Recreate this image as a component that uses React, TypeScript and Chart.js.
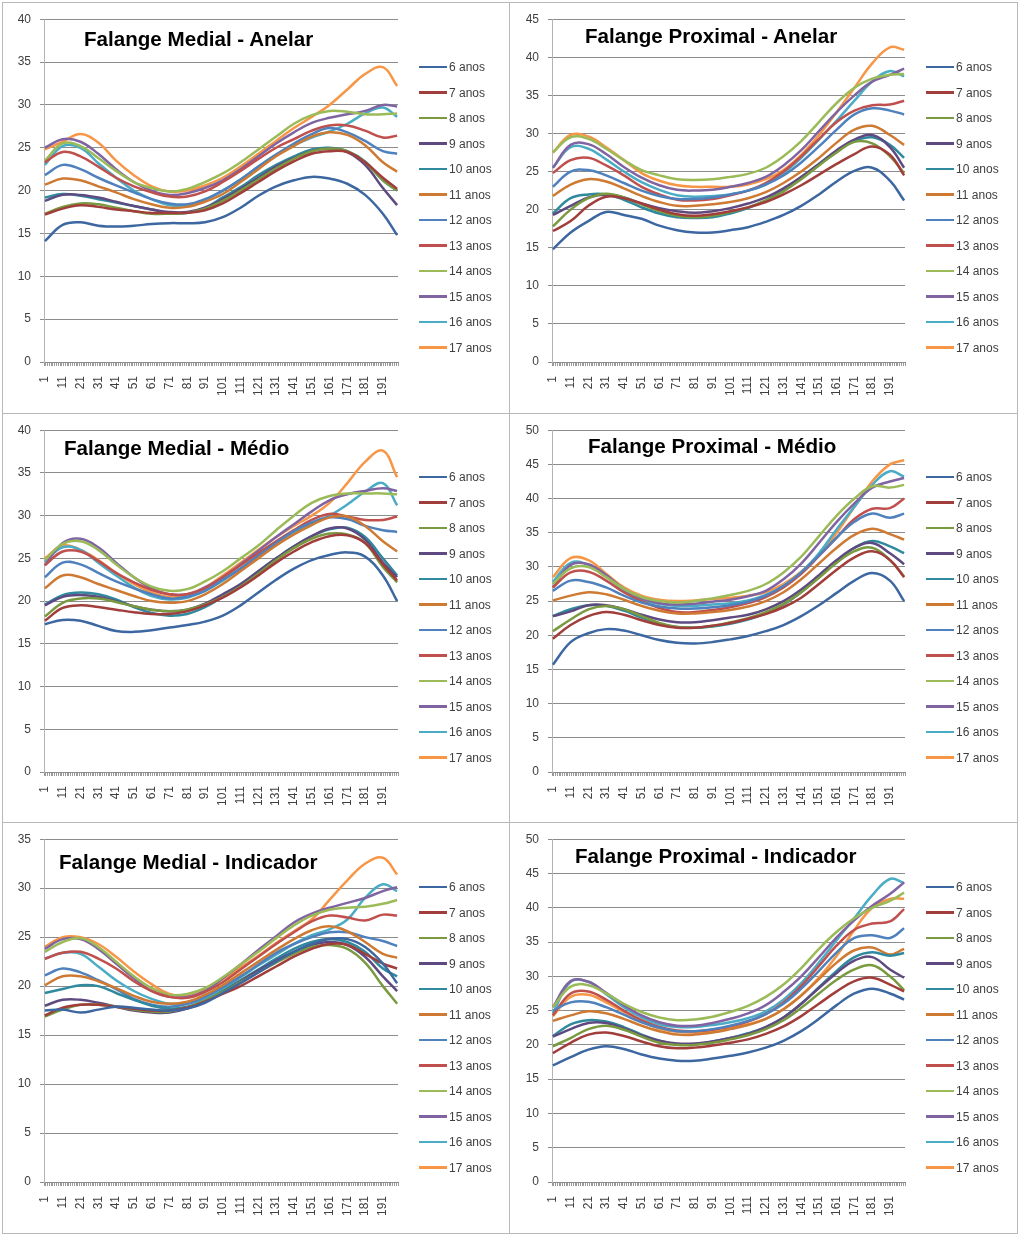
import React, { useEffect, useRef } from 'react';
import { Chart, registerables } from 'chart.js';

Chart.register(...registerables);

// ---------- data ----------
const CATEGORY_COUNT = 199;
const X_POINTS = [1, 11, 21, 31, 41, 51, 61, 71, 81, 91, 101, 111, 121, 131, 141, 151, 161, 171, 181, 191, 199];
const AGES = ['6 anos', '7 anos', '8 anos', '9 anos', '10 anos', '11 anos', '12 anos', '13 anos', '14 anos', '15 anos', '16 anos', '17 anos'];
const COLORS = ['#3C67A1', '#A13E3B', '#7A9A40', '#5E4A80', '#2F8A9E', '#CF7A33', '#4F81BD', '#C0504D', '#9BBB59', '#8064A2', '#4BACC6', '#F79646'];

const TITLES = ['Falange Medial - Anelar', 'Falange Proximal - Anelar', 'Falange Medial - Médio', 'Falange Proximal - Médio', 'Falange Medial - Indicador', 'Falange Proximal - Indicador'];
const Y_MAX = [40, 45, 40, 50, 35, 50];

const medialAnelar = [
  [14.1, 16.0, 16.3, 15.9, 15.8, 15.9, 16.1, 16.2, 16.2, 16.3, 16.9, 18.0, 19.4, 20.5, 21.2, 21.6, 21.4, 20.8, 19.5, 17.3, 14.8],
  [17.2, 17.9, 18.3, 18.1, 17.8, 17.6, 17.4, 17.4, 17.4, 17.7, 18.5, 19.7, 21.0, 22.3, 23.4, 24.3, 24.6, 24.5, 23.3, 21.5, 20.2],
  [17.3, 18.1, 18.5, 18.4, 18.0, 17.6, 17.3, 17.3, 17.4, 17.9, 18.8, 20.0, 21.3, 22.6, 23.7, 24.6, 24.9, 24.6, 23.3, 21.2, 20.0],
  [18.8, 19.5, 19.5, 19.2, 18.7, 18.2, 17.8, 17.5, 17.5, 18.0, 19.0, 20.2, 21.5, 22.8, 23.8, 24.6, 24.9, 24.5, 23.0, 20.3, 18.3],
  [19.2, 19.6, 19.4, 19.0, 18.6, 18.2, 17.8, 17.4, 17.4, 18.0, 19.2, 20.4, 21.8, 23.0, 24.0, 24.8, 25.0, 24.6, 23.4, 21.2, 20.0],
  [20.7, 21.4, 21.2, 20.5, 19.8, 19.0, 18.4, 18.0, 18.1, 18.7, 19.6, 21.0, 22.5, 24.0, 25.2, 26.3, 26.8, 26.5, 25.3, 23.3, 22.2],
  [21.8, 23.0, 22.5, 21.5, 20.6, 19.8, 19.0, 18.5, 18.4, 19.0, 20.0, 21.3, 22.8, 24.2, 25.5, 26.6, 27.3, 26.8, 25.8, 24.6, 24.3],
  [23.3, 24.5, 24.0, 22.8, 21.5, 20.5, 19.8, 19.3, 19.3, 19.9, 21.0, 22.3, 23.7, 25.0, 26.0, 27.0, 27.6, 27.6, 27.0, 26.2, 26.4],
  [23.5, 25.5, 25.2, 23.8, 22.3, 21.0, 20.3, 19.9, 20.2, 21.0, 22.0, 23.3, 24.8, 26.3, 27.8, 28.8, 29.3, 29.2, 28.9, 28.9, 29.0],
  [25.0, 26.0, 25.7, 24.3, 22.5, 21.0, 20.0, 19.5, 19.7, 20.3, 21.2, 22.5, 24.0, 25.5, 26.8, 27.9, 28.5, 28.9, 29.3, 30.0, 29.8],
  [23.0, 25.2, 25.0, 23.2, 21.5, 20.0, 19.0, 18.3, 18.3, 18.9, 20.0, 21.3, 22.8, 24.2, 25.3, 26.2, 26.9, 27.8, 29.0, 29.7, 28.6],
  [24.8, 25.7, 26.6, 25.6, 23.5, 21.8, 20.5, 19.9, 20.0, 20.6, 21.5, 22.8, 24.3, 25.8, 27.3, 28.6, 30.0, 31.8, 33.6, 34.4, 32.2],
];

const proximalAnelar = [
  [14.8, 17.0, 18.5, 19.7, 19.3, 18.8, 17.9, 17.3, 17.0, 17.0, 17.3, 17.7, 18.4, 19.3, 20.5, 22.0, 23.7, 25.1, 25.5, 23.8, 21.2],
  [17.2, 18.5, 20.5, 21.7, 21.5, 20.8, 20.0, 19.4, 19.2, 19.4, 19.8, 20.3, 21.0, 22.0, 23.2, 24.6, 26.0, 27.3, 28.3, 27.2, 24.5],
  [17.8, 20.0, 21.5, 22.1, 21.6, 20.7, 19.8, 19.2, 19.0, 19.2, 19.7, 20.3, 21.2, 22.4, 24.0, 25.8, 27.5, 28.9, 28.7, 27.0, 24.8],
  [19.3, 20.5, 21.6, 22.0, 21.6, 20.8, 20.2, 19.8, 19.6, 19.8, 20.2, 20.8, 21.6, 22.8, 24.3, 26.0, 27.8, 29.2, 29.8, 28.2, 25.5],
  [19.5, 21.5, 22.0, 22.0, 21.3, 20.3, 19.5, 19.0, 18.9, 19.0, 19.5, 20.2, 21.2, 22.5, 24.2, 26.0, 27.7, 29.0, 29.5, 28.5, 26.8],
  [21.8, 23.3, 24.0, 23.7, 22.8, 21.8, 21.0, 20.5, 20.5, 20.7, 21.0, 21.5, 22.3, 23.5, 25.0, 26.8, 28.8, 30.5, 31.0, 29.8, 28.5],
  [23.0, 25.0, 25.2, 24.5, 23.5, 22.5, 21.8, 21.4, 21.4, 21.6, 22.0, 22.5, 23.3, 24.5, 26.2, 28.3, 30.5, 32.5, 33.3, 33.0, 32.5],
  [24.8, 26.5, 26.8, 25.8, 24.5, 23.0, 22.0, 21.3, 21.2, 21.4, 21.9, 22.5, 23.5, 25.0, 27.0, 29.3, 31.5, 33.0, 33.7, 33.8, 34.3],
  [27.5, 29.5, 29.3, 28.0, 26.5, 25.2, 24.5, 24.0, 23.9, 24.0, 24.3, 24.7, 25.5, 27.0, 29.0, 31.5, 34.0, 36.0, 37.2, 37.7, 37.8],
  [25.5, 28.5, 28.6, 27.3, 25.6, 24.2, 23.2, 22.6, 22.5, 22.6, 23.0, 23.5, 24.3, 25.8, 27.8, 30.3, 32.8, 35.0, 36.8, 37.7, 38.5],
  [25.5, 28.2, 28.0, 26.6, 25.0, 23.6, 22.6, 21.9, 21.7, 21.8, 22.0, 22.5, 23.3, 24.8, 26.8, 29.2, 31.7, 34.3, 36.8, 38.2, 37.5],
  [27.5, 29.8, 29.6, 28.2, 26.5, 24.8, 23.8, 23.2, 23.0, 23.0, 23.0, 23.3, 24.0, 25.2, 27.2, 29.8, 32.8, 36.0, 39.2, 41.3, 41.0],
];

const medialMedio = [
  [17.3, 17.8, 17.7, 17.1, 16.5, 16.4, 16.6, 16.9, 17.2, 17.6, 18.3, 19.5, 21.0, 22.5, 23.8, 24.8, 25.4, 25.7, 25.2, 23.0, 20.0],
  [17.7, 19.2, 19.5, 19.3, 19.0, 18.7, 18.5, 18.5, 18.8, 19.5, 20.4, 21.6, 23.0, 24.5, 25.8, 26.9, 27.6, 27.7, 26.8, 24.3, 22.4],
  [18.2, 19.8, 20.3, 20.3, 19.9, 19.4, 19.0, 18.8, 19.0, 19.6, 20.5, 21.7, 23.2, 24.8, 26.2, 27.3, 27.9, 27.8, 26.8, 24.0, 22.2],
  [19.5, 20.5, 20.7, 20.5, 20.0, 19.4, 19.0, 18.8, 19.0, 19.7, 20.8, 22.0, 23.5, 25.0, 26.4, 27.6, 28.5, 28.5, 27.2, 24.5, 22.8],
  [19.6, 20.7, 21.0, 20.8, 20.2, 19.3, 18.6, 18.3, 18.5, 19.3, 20.5, 21.9, 23.5, 25.0, 26.4, 27.6, 28.4, 28.6, 27.5, 25.0, 23.0],
  [21.5, 23.0, 22.8, 22.0, 21.3, 20.6, 20.0, 19.8, 20.0, 20.8, 22.0, 23.5, 25.0, 26.5, 27.8, 28.9, 29.8, 29.9, 28.8, 27.0, 25.8],
  [22.8, 24.5, 24.3, 23.3, 22.3, 21.5, 20.8, 20.3, 20.5, 21.2, 22.5, 23.8, 25.3, 26.8, 28.2, 29.2, 29.8, 29.6, 28.8, 28.3, 28.1],
  [24.2, 25.8, 25.8, 24.7, 23.3, 22.2, 21.3, 20.8, 20.8, 21.5, 22.8, 24.2, 25.6, 27.0, 28.3, 29.5, 30.2, 29.9, 29.5, 29.5, 29.9],
  [24.8, 26.7, 27.0, 26.0, 24.3, 22.8, 21.7, 21.2, 21.4, 22.3, 23.5, 25.0, 26.5, 28.3, 30.0, 31.5, 32.3, 32.6, 32.6, 32.6, 32.5],
  [24.2, 26.8, 27.3, 26.3, 24.5, 22.8, 21.5, 20.8, 20.8, 21.6, 22.8, 24.3, 25.9, 27.5, 29.0, 30.5, 31.8, 32.5, 32.9, 33.2, 32.9],
  [24.6, 26.3, 26.0, 24.5, 23.0, 21.6, 20.6, 20.2, 20.4, 21.2, 22.4, 23.8, 25.3, 26.8, 28.0, 29.0, 30.0, 31.3, 32.8, 33.8, 31.2],
  [25.0, 26.5, 26.0, 24.8, 23.3, 22.0, 21.0, 20.5, 20.8, 21.6, 23.0, 24.5, 26.0, 27.5, 28.8, 30.0, 31.5, 33.8, 36.3, 37.6, 34.5],
];

const proximalMedio = [
  [15.7, 19.0, 20.3, 20.9, 20.7, 20.0, 19.3, 18.9, 18.8, 19.0, 19.4, 19.9, 20.6, 21.5, 22.8, 24.4, 26.2, 28.0, 29.1, 28.0, 25.0],
  [19.5, 21.5, 22.8, 23.4, 23.0, 22.2, 21.5, 21.1, 21.1, 21.4, 21.8, 22.4, 23.1, 24.1, 25.5, 27.5, 29.6, 31.4, 32.3, 31.0, 28.5],
  [20.6, 22.3, 23.8, 24.3, 23.8, 22.8, 21.8, 21.2, 21.1, 21.4, 21.9, 22.5, 23.4, 24.6, 26.3, 28.4, 30.6, 32.3, 32.8, 31.0, 28.6],
  [22.8, 23.5, 24.4, 24.4, 23.8, 23.0, 22.3, 21.9, 21.9, 22.2, 22.6, 23.0, 23.8, 25.0, 26.7, 28.8, 31.0, 32.8, 33.5, 32.0, 30.4],
  [22.8, 23.8, 24.4, 24.3, 23.6, 22.6, 21.7, 21.2, 21.1, 21.3, 21.7, 22.3, 23.2, 24.5, 26.3, 28.5, 30.8, 32.8, 33.8, 33.0, 32.0],
  [25.1, 25.8, 26.3, 26.0, 25.2, 24.3, 23.6, 23.2, 23.2, 23.4, 23.7, 24.2, 25.0, 26.3, 28.2, 30.5, 32.8, 34.7, 35.6, 34.8, 34.0],
  [26.5, 28.0, 27.8, 27.0, 25.8, 24.8, 24.2, 23.9, 23.9, 24.1, 24.4, 24.9, 25.8, 27.2, 29.2, 31.7, 34.3, 36.6, 37.8, 37.2, 37.8],
  [27.0, 29.2, 29.3, 28.0, 26.3, 25.0, 24.0, 23.4, 23.4, 23.7, 24.1, 24.7, 25.6, 27.0, 29.0, 31.6, 34.3, 37.0, 38.5, 38.6, 40.0],
  [27.5, 29.8, 30.0, 28.5, 26.8, 25.6, 25.0, 24.8, 25.0, 25.4, 25.9, 26.5, 27.5, 29.2, 31.5, 34.5, 37.5, 40.0, 41.8, 41.6, 42.0],
  [27.0, 30.3, 30.4, 28.8, 26.8, 25.4, 24.7, 24.5, 24.6, 24.9, 25.2, 25.7, 26.5, 28.2, 30.5, 33.5, 36.6, 39.3, 41.6, 42.5, 43.0],
  [27.8, 30.6, 30.3, 28.6, 26.6, 25.2, 24.6, 24.3, 24.3, 24.5, 24.7, 25.1, 25.9, 27.2, 29.2, 32.0, 35.5, 38.8, 42.0, 44.0, 43.2],
  [28.5, 31.3, 31.0, 29.0, 27.0, 25.8, 25.2, 25.0, 25.1, 25.3, 25.5, 25.8, 26.3, 27.5, 29.3, 31.8, 35.0, 38.8, 42.5, 45.0, 45.6],
];

const medialIndicador = [
  [17.5, 17.6, 17.3, 17.6, 17.9, 17.8, 17.6, 17.5, 17.7, 18.3, 19.3, 20.3, 21.4, 22.5, 23.5, 24.3, 24.8, 24.8, 24.0, 22.3, 20.3],
  [17.0, 17.8, 18.1, 18.1, 17.9, 17.7, 17.5, 17.5, 17.8, 18.4, 19.2, 20.0, 21.0, 22.0, 23.0, 23.8, 24.3, 24.2, 23.3, 22.3, 21.8],
  [16.9, 17.6, 18.1, 18.1, 17.9, 17.6, 17.4, 17.4, 17.8, 18.5, 19.4, 20.4, 21.4, 22.4, 23.3, 24.0, 24.2, 23.8, 22.4, 20.0, 18.2],
  [18.0, 18.6, 18.6, 18.3, 17.9, 17.5, 17.3, 17.3, 17.7, 18.4, 19.4, 20.5, 21.6, 22.6, 23.5, 24.2, 24.5, 24.2, 23.0, 21.0, 19.5],
  [19.3, 19.7, 20.1, 20.0, 19.3, 18.6, 18.0, 17.7, 17.9, 18.5, 19.5, 20.6, 21.7, 22.8, 23.8, 24.5, 24.8, 24.5, 23.5, 21.8, 21.0],
  [20.1, 21.0, 21.0, 20.5, 19.8, 19.0, 18.4, 18.2, 18.4, 19.1, 20.1, 21.3, 22.5, 23.7, 24.8, 25.7, 26.1, 25.6, 24.5, 23.3, 22.9],
  [21.1, 21.8, 21.4, 20.6, 19.7, 18.7, 18.1, 17.9, 18.2, 18.9, 19.9, 21.0, 22.2, 23.4, 24.3, 25.0, 25.5, 25.5, 25.0, 24.6, 24.1],
  [22.8, 23.4, 23.5, 22.8, 21.8, 20.5, 19.5, 18.9, 18.8, 19.4, 20.4, 21.7, 23.0, 24.3, 25.5, 26.6, 27.2, 27.0, 26.7, 27.3, 27.2],
  [23.5, 24.5, 24.9, 24.0, 22.5, 21.0, 19.8, 19.1, 19.2, 19.8, 20.9, 22.2, 23.5, 24.9, 26.2, 27.2, 27.8, 28.0, 28.1, 28.4, 28.8],
  [23.8, 24.8, 24.8, 23.8, 22.3, 20.8, 19.5, 18.9, 18.9, 19.5, 20.8, 22.2, 23.7, 25.1, 26.5, 27.4, 28.0, 28.5, 29.0, 29.7, 30.1],
  [22.8, 23.4, 23.3, 22.0, 20.6, 19.5, 18.7, 18.2, 18.2, 18.7, 19.7, 20.9, 22.1, 23.2, 24.3, 25.2, 25.8, 26.8, 29.0, 30.4, 29.7],
  [24.0, 25.0, 25.0, 24.3, 23.0, 21.5, 20.2, 19.2, 19.0, 19.6, 20.7, 21.9, 23.1, 24.4, 25.6, 26.8, 28.8, 30.8, 32.5, 33.1, 31.4],
];

const proximalIndicador = [
  [17.0, 18.2, 19.3, 19.8, 19.4, 18.6, 18.0, 17.7, 17.7, 18.0, 18.4, 18.9, 19.6, 20.6, 22.0, 23.8, 25.8, 27.5, 28.2, 27.5, 26.6],
  [18.8, 20.3, 21.5, 21.8, 21.3, 20.5, 19.8, 19.5, 19.6, 19.9, 20.3, 20.8, 21.6, 22.7, 24.2, 26.0, 27.8, 29.3, 29.8, 28.8, 27.8],
  [19.8, 21.0, 22.3, 22.8, 22.2, 21.2, 20.3, 20.0, 20.0, 20.3, 20.8, 21.4, 22.3, 23.6, 25.4, 27.5, 29.5, 31.0, 31.6, 30.0, 28.0],
  [21.2, 22.3, 23.2, 23.2, 22.4, 21.4, 20.6, 20.2, 20.2, 20.5, 21.0, 21.6, 22.6, 24.0, 26.0, 28.3, 30.5, 32.3, 32.8, 31.0, 29.8],
  [21.3, 23.0, 23.6, 23.4, 22.6, 21.5, 20.6, 20.1, 20.1, 20.5, 21.0, 21.7, 22.6, 24.0, 26.0, 28.4, 30.8, 32.8, 33.5, 33.0, 33.4],
  [23.5, 24.3, 24.9, 24.6, 23.8, 22.8, 22.0, 21.5, 21.5, 21.8, 22.3, 22.9, 23.8, 25.2, 27.2, 29.6, 32.0, 33.8, 34.2, 33.2, 34.0],
  [25.0, 26.2, 26.3, 25.5, 24.4, 23.3, 22.5, 22.0, 22.0, 22.3, 22.8, 23.5, 24.5, 26.0, 28.2, 30.8, 33.5, 35.6, 36.0, 35.6, 37.0],
  [24.3, 27.5, 27.8, 26.6, 25.0, 23.6, 22.6, 22.1, 22.0, 22.2, 22.7, 23.4, 24.5, 26.2, 28.6, 31.5, 34.5, 36.8, 37.7, 38.0, 39.8],
  [25.5, 28.5, 28.7, 27.5, 26.0, 24.8, 24.0, 23.6, 23.7, 24.1, 24.8, 25.7, 27.0, 28.8, 31.2, 34.0, 36.5, 38.5, 40.0, 41.0, 42.2],
  [25.5, 29.3, 29.2, 27.6, 25.8, 24.3, 23.3, 22.8, 22.8, 23.2, 23.8, 24.6, 25.8, 27.7, 30.0, 32.8, 35.7, 38.2, 40.3, 42.0, 43.7],
  [24.6, 29.2, 29.2, 27.4, 25.5, 24.0, 23.0, 22.6, 22.6, 22.9, 23.3, 23.9, 24.9, 26.6, 29.0, 32.0, 35.3, 38.5, 41.8, 44.2, 43.6],
  [24.2, 27.0, 27.3, 26.2, 24.8, 23.4, 22.4, 21.9, 21.8, 22.0, 22.4, 23.0, 23.8, 25.2, 27.2, 29.8, 33.0, 36.8, 40.0, 41.3, 41.3],
];

const PANEL_SERIES = [medialAnelar, proximalAnelar, medialMedio, proximalMedio, medialIndicador, proximalIndicador];

// ---------- layout ----------
const COLS = [{ x: 2, w: 508, plotLeft: 41 }, { x: 509, w: 509, plotLeft: 42 }];
const ROWS = [
  { y: 2, h: 412, plotTop: 15, plotBottom: 359, legendTop: 64 },
  { y: 413, h: 410, plotTop: 14, plotBottom: 358, legendTop: 63 },
  { y: 822, h: 412, plotTop: 15, plotBottom: 359, legendTop: 64 },
];
const PLOT_RIGHT = 395;
const TITLE_POS = [
  { left: 81, cy: 36 }, { left: 75, cy: 33 },
  { left: 61, cy: 34 }, { left: 78, cy: 32 },
  { left: 56, cy: 39 }, { left: 65, cy: 33 },
];
const FONT = '"Liberation Sans", Arial, sans-serif';
const TICK_COLOR = '#404040';

function Panel({ idx }: { idx: number }) {
  const ref = useRef<HTMLCanvasElement | null>(null);
  const col = COLS[idx % 2];
  const row = ROWS[Math.floor(idx / 2)];
  const W = col.w - 2;
  const H = row.h - 2;

  useEffect(() => {
    const canvas = ref.current;
    if (!canvas) return;
    const labels = Array.from({ length: CATEGORY_COUNT }, (_, i) => String(i + 1));
    const series = PANEL_SERIES[idx];
    const chart = new Chart(canvas, {
      type: 'line',
      data: {
        labels,
        datasets: series.map((vals, i) => ({
          label: AGES[i],
          data: X_POINTS.map((x, j) => ({ x: String(x), y: vals[j] })),
          borderColor: COLORS[i],
          backgroundColor: COLORS[i],
          borderWidth: 2.5,
          pointRadius: 0,
          pointHoverRadius: 0,
          tension: 0.4,
          fill: false,
        })),
      },
      options: {
        responsive: false,
        animation: false,
        events: [],
        layout: { padding: { top: row.plotTop, right: W - PLOT_RIGHT, left: 0, bottom: 0 } },
        plugins: { legend: { display: false }, tooltip: { enabled: false }, title: { display: false } },
        scales: {
          x: {
            type: 'category',
            offset: true,
            grid: { offset: true, drawOnChartArea: false, drawTicks: true, tickLength: 4, color: '#9a9a9a' },
            border: { color: '#8c8c8c' },
            ticks: {
              autoSkip: false,
              minRotation: 90,
              maxRotation: 90,
              padding: 10,
              color: TICK_COLOR,
              font: { family: FONT, size: 12 },
              callback: (_v: any, i: number) => (i % 10 === 0 ? labels[i] : ''),
            },
            afterFit: (s: any) => { s.height = H - row.plotBottom; },
          },
          y: {
            min: 0,
            max: Y_MAX[idx],
            ticks: { stepSize: 5, padding: 9, color: TICK_COLOR, font: { family: FONT, size: 12 } },
            grid: { color: '#8c8c8c', tickLength: 4 },
            border: { color: '#b4b4b4' },
            afterFit: (s: any) => { s.width = col.plotLeft; },
          },
        },
      },
    } as any);
    return () => chart.destroy();
  }, []);

  const t = TITLE_POS[idx];
  return (
    <div
      style={{
        position: 'absolute', left: col.x, top: row.y, width: col.w, height: row.h,
        boxSizing: 'border-box', border: '1px solid #b8b8b8', background: '#fff',
      }}
    >
      <canvas ref={ref} width={W} height={H} style={{ position: 'absolute', left: 0, top: 0, width: W, height: H }} />
      <div
        style={{
          position: 'absolute', left: t.left, top: t.cy - 12, height: 24, lineHeight: '24px',
          fontFamily: FONT, fontWeight: 'bold', fontSize: 20.6, color: '#000', whiteSpace: 'nowrap',
        }}
      >
        {TITLES[idx]}
      </div>
      {AGES.map((age, i) => (
        <div
          key={age}
          style={{ position: 'absolute', left: 416, top: row.legendTop + i * 25.5 - 7, height: 14, display: 'flex', alignItems: 'center' }}
        >
          <div style={{ width: 28, height: 2.5, background: COLORS[i] }} />
          <span style={{ marginLeft: 2, fontFamily: FONT, fontSize: 12, lineHeight: '14px', color: TICK_COLOR, whiteSpace: 'nowrap' }}>{age}</span>
        </div>
      ))}
    </div>
  );
}

export default function App() {
  return (
    <div style={{ position: 'absolute', left: 0, top: 0, width: 1024, height: 1243, background: '#fff', overflow: 'hidden' }}>
      {[0, 1, 2, 3, 4, 5].map((i) => <Panel key={i} idx={i} />)}
    </div>
  );
}
